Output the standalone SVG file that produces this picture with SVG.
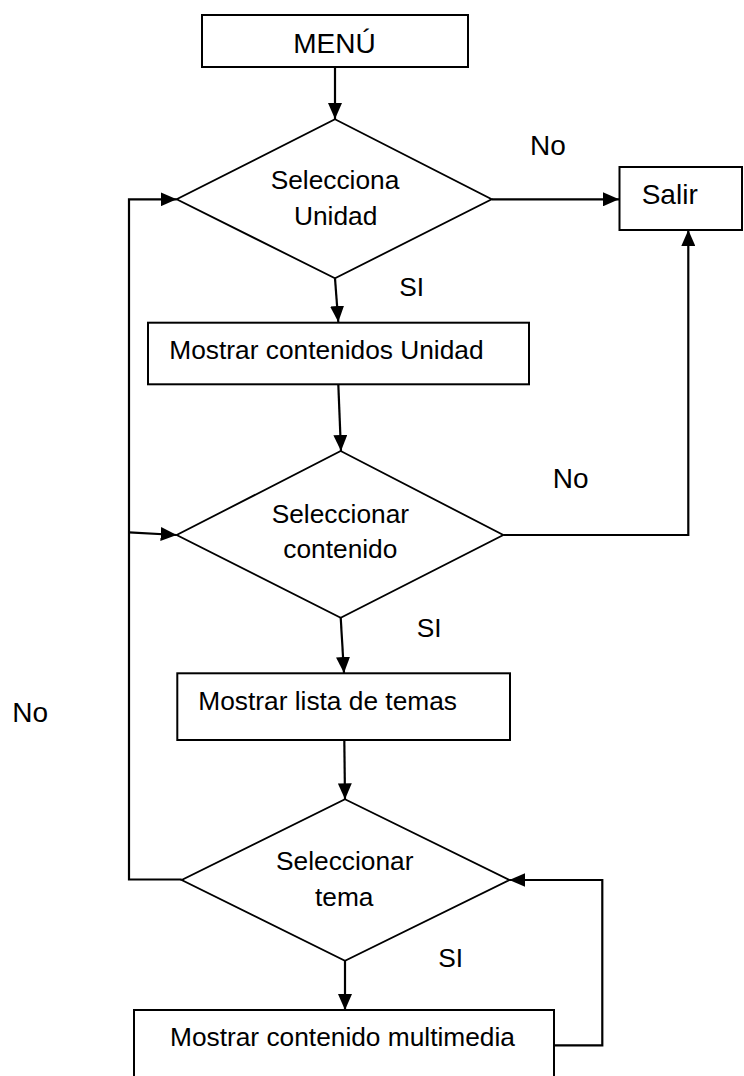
<svg xmlns="http://www.w3.org/2000/svg" width="744" height="1076" viewBox="0 0 744 1076">
  <style>
    .box { fill: #fff; stroke: #000; stroke-width: 2; }
    .dec { fill: #fff; stroke: #000; stroke-width: 1.8; stroke-linejoin: miter; }
    .edge { fill: none; stroke: #000; stroke-width: 2.2; }
    .t { font-family: "Liberation Sans", Arial, sans-serif; font-size: 26.3px; fill: #000; }
    .tl { font-family: "Liberation Sans", Arial, sans-serif; font-size: 28px; fill: #000; }
  </style>
  <defs>
    <marker id="arrow" markerUnits="userSpaceOnUse" markerWidth="16" markerHeight="14" refX="16" refY="7" orient="auto">
      <path d="M0,0 L16,7 L0,14 Z" fill="#000"/>
    </marker>
  </defs>

  <rect width="744" height="1076" fill="#fff"/>

  <!-- connectors -->
  <g id="connectors">
    <path class="edge" d="M335,67 L335,119" marker-end="url(#arrow)"/>
    <path class="edge" d="M491.7,199.3 L619,199.3" marker-end="url(#arrow)"/>
    <path class="edge" d="M335,278.3 L338.3,322" marker-end="url(#arrow)"/>
    <path class="edge" d="M338.3,384.3 L341,451" marker-end="url(#arrow)"/>
    <path class="edge" d="M503.3,535 L688.3,535 L688.3,230" marker-end="url(#arrow)"/>
    <path class="edge" d="M340.7,617.7 L344,673" marker-end="url(#arrow)"/>
    <path class="edge" d="M344.3,740 L345,799.3" marker-end="url(#arrow)"/>
    <path class="edge" d="M181.7,879.5 L129,879.5 L129,199.3 L176.7,199.3" marker-end="url(#arrow)"/>
    <path class="edge" d="M129,532.3 L176.7,535" marker-end="url(#arrow)"/>
    <path class="edge" d="M345,960.7 L345,1010" marker-end="url(#arrow)"/>
    <path class="edge" d="M554,1045.3 L602.3,1045.3 L602.3,880 L509.3,880" marker-end="url(#arrow)"/>
  </g>

  <!-- branch labels -->
  <g id="labels">
    <text class="tl" x="530" y="155">No</text>
    <text class="t" x="399.3" y="296">SI</text>
    <text class="tl" x="552.7" y="488.3">No</text>
    <text class="t" x="416.7" y="636.7">SI</text>
    <text class="tl" x="12.3" y="721.7">No</text>
    <text class="t" x="438.3" y="967.3">SI</text>
  </g>

  <g id="menu">
    <rect class="box" x="202" y="15" width="266" height="52"/>
    <text class="tl" x="293.3" y="52.7">MENÚ</text>
  </g>

  <g id="selecciona-unidad">
    <polygon class="dec" points="335,119.3 491.7,199.3 335,278.3 176.7,199.3"/>
    <text class="t" x="270.7" y="189.3">Selecciona</text>
    <text class="t" x="294" y="225">Unidad</text>
  </g>

  <g id="salir">
    <rect class="box" x="619.5" y="167" width="122.5" height="63"/>
    <text class="tl" x="641.7" y="204.3">Salir</text>
  </g>

  <g id="mostrar-contenidos-unidad">
    <rect class="box" x="148" y="322.7" width="381" height="61.6"/>
    <text class="t" x="169.3" y="359">Mostrar contenidos Unidad</text>
  </g>

  <g id="seleccionar-contenido">
    <polygon class="dec" points="340.7,451 503.3,535 340.7,617.7 176.7,535"/>
    <text class="t" x="271.7" y="523.3">Seleccionar</text>
    <text class="t" x="283.3" y="558.3">contenido</text>
  </g>

  <g id="mostrar-lista-temas">
    <rect class="box" x="177.3" y="673.3" width="332.7" height="66.7"/>
    <text class="t" x="198.3" y="710">Mostrar lista de temas</text>
  </g>

  <g id="seleccionar-tema">
    <polygon class="dec" points="345,799.3 509.3,880 345,960.7 181.7,880"/>
    <text class="t" x="276" y="870">Seleccionar</text>
    <text class="t" x="315" y="906">tema</text>
  </g>

  <g id="mostrar-contenido-multimedia">
    <rect class="box" x="134" y="1010" width="420" height="80"/>
    <text class="t" x="170" y="1046">Mostrar contenido multimedia</text>
  </g>
</svg>
